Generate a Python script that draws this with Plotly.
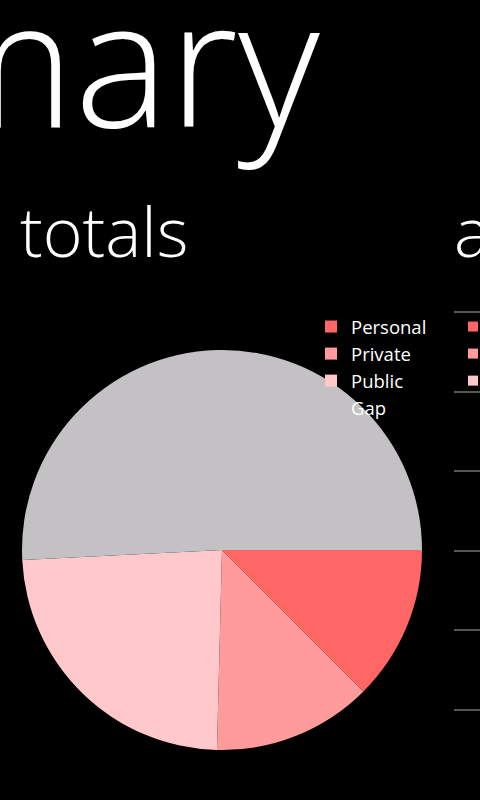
import plotly.graph_objects as go

# Share of totals by category
categories = ["Personal", "Private", "Public", "Gap"]
shares = [12.5, 12.9, 23.8, 50.8]
colors = ["#FF6666", "#FF9B9B", "#FFC8CB", "#C3C1C4"]

# Next panel: series names shown in its legend (its bars lie further right)
next_series = ["Personal", "Private", "Public"]
next_ticks = [0, 1, 2, 3, 4, 5]

W, H = 480, 800
FONT = "Open Sans"

fig = go.Figure()

fig.add_trace(go.Pie(
    labels=categories,
    values=shares,
    marker=dict(colors=colors, line=dict(width=0)),
    sort=False,
    direction="clockwise",
    rotation=90,
    textinfo="none",
    hoverinfo="none",
    domain=dict(x=[22 / W, 422 / W], y=[50 / H, 450 / H]),
    legend="legend",
))

# Placeholder series of the next panel: no points on screen, legend only
for name, c in zip(next_series, colors):
    fig.add_trace(go.Scatter(
        x=[None], y=[None], name=name, mode="markers",
        marker=dict(color=c, symbol="square", size=10),
        hoverinfo="skip",
        xaxis="x2", yaxis="y2", legend="legend2",
    ))

# y2 range padded slightly so the first and last grid lines stay inside the domain
fig.update_layout(
    width=W, height=H,
    margin=dict(l=0, r=0, t=0, b=0, autoexpand=False),
    paper_bgcolor="black",
    plot_bgcolor="black",
    font=dict(family=FONT, color="white"),
    legend=dict(
        x=311 / W, y=(H - 308) / H, xanchor="left", yanchor="top",
        bgcolor="rgba(0,0,0,0)", font=dict(size=18.5, color="white"),
    ),
    legend2=dict(
        x=453 / W, y=(H - 308) / H, xanchor="left", yanchor="top",
        bgcolor="rgba(0,0,0,0)", font=dict(size=18.5, color="white"),
    ),
    xaxis=dict(visible=False),
    yaxis=dict(visible=False),
    xaxis2=dict(domain=[454 / W, 1], range=[0, 1], visible=False),
    yaxis2=dict(
        domain=[86 / H, 492 / H], range=[-0.05, 5.05],
        tickvals=next_ticks, showticklabels=False, ticks="",
        showgrid=True, gridcolor="#555555", gridwidth=2,
        zeroline=False, showline=False,
    ),
    showlegend=True,
)

# Panorama headings, partly running past the screen edges
fig.add_annotation(
    text="summary", xref="paper", yref="paper",
    x=322 / W, y=(H - 58) / H, xanchor="right", yanchor="middle",
    showarrow=False, font=dict(family=FONT, size=178, color="white", weight=300),
)
fig.add_annotation(
    text="data totals", xref="paper", yref="paper",
    x=190 / W, y=(H - 231) / H, xanchor="right", yanchor="middle",
    showarrow=False, font=dict(family=FONT, size=68, color="white", weight=300),
)
fig.add_annotation(
    text="averages", xref="paper", yref="paper",
    x=452 / W, y=(H - 231) / H, xanchor="left", yanchor="middle",
    showarrow=False, font=dict(family=FONT, size=68, color="white", weight=300),
)

fig.write_html("out.html")
